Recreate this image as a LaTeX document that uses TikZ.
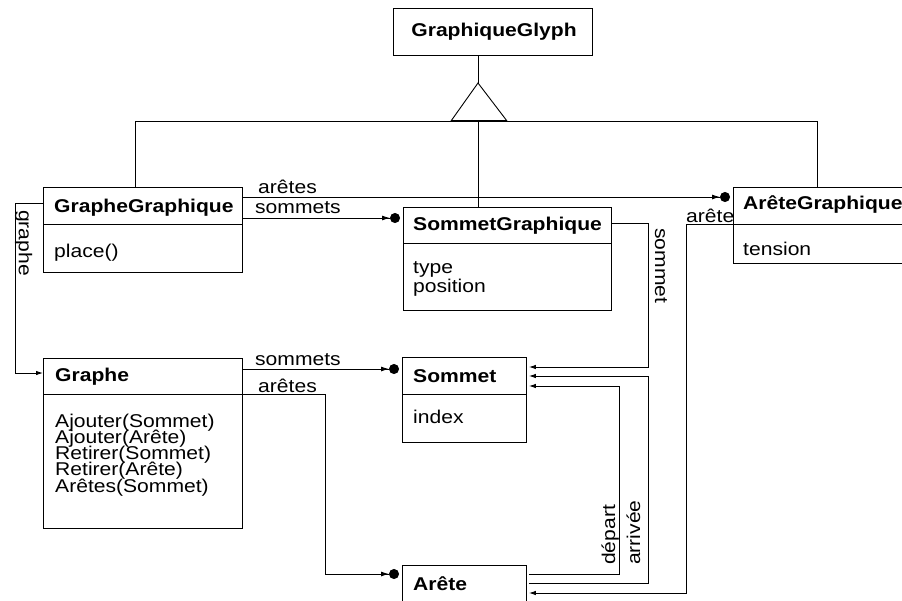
\documentclass[tikz,border=0pt]{standalone}
\usepackage{fontspec}
\setmainfont{Liberation Sans}[FakeStretch=1.14]
\usetikzlibrary{arrows.meta}
\begin{document}
\begin{tikzpicture}[x=1pt,y=-1pt,
  box/.style={draw, line width=0.9pt, inner sep=0pt, anchor=north west, fill=white},
  lbl/.style={font=\fontsize{18.5}{16}\selectfont, inner sep=0pt},
  meth/.style={lbl, text height=11pt, text depth=3pt},
  ttl/.style={font=\fontsize{18.5}{16}\selectfont\bfseries, inner sep=0pt},
  wire/.style={line width=0.9pt},
  many/.style={wire, -{Latex[length=8pt,width=5pt] Circle[length=10pt]}, shorten >=3pt},
  one/.style={wire, -{Latex[length=7pt,width=4.5pt]}, shorten >=2pt},
  tip/.style={wire, -{Latex[length=7pt,width=4.5pt]}}]
\useasboundingbox (0,0) rectangle (902,600);

% boxes
\node[box, minimum width=199pt, minimum height=47pt] (glyph) at (393,8) {};
\node[box, minimum width=199pt, minimum height=85pt] (gg) at (43,187) {};
\node[box, minimum width=208pt, minimum height=103pt] (sg) at (403,207) {};
\node[box, minimum width=171pt, minimum height=76pt] (ag) at (733,187) {};
\node[box, minimum width=199pt, minimum height=170pt] (gr) at (43,358) {};
\node[box, minimum width=124pt, minimum height=85pt] (so) at (402,357) {};
\node[box, minimum width=124pt, minimum height=50pt] (ar) at (402,565) {};

% dividers
\draw[wire] (gg.west |- 0,224) -- (gg.east |- 0,224);
\draw[wire] (sg.west |- 0,243) -- (sg.east |- 0,243);
\draw[wire] (ag.west |- 0,224) -- (ag.east |- 0,224);
\draw[wire] (gr.west |- 0,394) -- (gr.east |- 0,394);
\draw[wire] (so.west |- 0,394) -- (so.east |- 0,394);

% texts
\node[ttl, anchor=base] (tglyph) at (494,36) {GraphiqueGlyph};
\node[ttl, anchor=base west] (tgg) at (54,212) {GrapheGraphique};
\node[lbl, anchor=base west] (mgg) at (54,257) {place()};
\node[ttl, anchor=base west] (tsg) at (413,230) {SommetGraphique};
\node[meth, anchor=base west] (asg1) at (413,273) {type};
\node[meth, anchor=base west] (asg2) at (413,292) {position};
\node[ttl, anchor=base west] (tag) at (743,209) {ArêteGraphique};
\node[lbl, anchor=base west] (aag) at (743,255) {tension};
\node[ttl, anchor=base west] (tgr) at (55,381) {Graphe};
\node[meth, anchor=base west] (mgr1) at (55,427) {Ajouter(Sommet)};
\node[meth, anchor=base west] (mgr2) at (55,443) {Ajouter(Arête)};
\node[meth, anchor=base west] (mgr3) at (55,459) {Retirer(Sommet)};
\node[meth, anchor=base west] (mgr4) at (55,475) {Retirer(Arête)};
\node[meth, anchor=base west] (mgr5) at (55,492) {Arêtes(Sommet)};
\node[ttl, anchor=base west] (tso) at (413,382) {Sommet};
\node[lbl, anchor=base west] (aso) at (413,423) {index};
\node[ttl, anchor=base west] (tar) at (413,590) {Arête};

% inheritance
\coordinate (apex) at (478,83);
\coordinate (bl) at (451,121);
\coordinate (br) at (507,121);
\coordinate (bar) at (478,121);
\coordinate (barL) at (135,121);
\coordinate (barR) at (817,121);
\draw[wire] (apex |- glyph.south) -- (apex);
\draw[wire] (barL) -- (barR);
\draw[wire] (barL) -- (barL |- gg.north);
\draw[wire] (barR) -- (barR |- ag.north);
\draw[wire] (bar) -- (bar |- sg.north);
\draw[wire, fill=white, line join=miter] (apex) -- (bl) -- (br) -- cycle;
\draw[line width=1.6pt] (bl) -- (br);

% associations
\draw[many] (gg.east |- 0,197) -- (ag.west |- 0,197);
\draw[many] (gg.east |- 0,218) -- (sg.west |- 0,218);
\draw[many] (gr.east |- 0,369) -- (so.west |- 0,369);
\draw[many] (gr.east |- 0,394) -- (325,394) |- (ar.west |- 0,574);
\draw[tip] (gg.west |- 0,203) -- (15,203) |- (gr.west |- 0,373);
\draw[one] (sg.east |- 0,223) -- (648,223) |- (so.east |- 0,367);
\draw[one] ([xshift=2pt]ar.east |- 0,583) -- (648,583) |- (so.east |- 0,376);
\draw[one] ([xshift=2pt]ar.east |- 0,574) -- (619,574) |- (so.east |- 0,386);
\draw[one] (ag.west |- 0,224) -- (686,224) |- (ar.east |- 0,593);

% labels
\node[lbl, anchor=base west] (l1) at (258,193) {arêtes};
\node[lbl, anchor=base west] (l2) at (255,213) {sommets};
\node[lbl, anchor=base west] (l3) at (686,222) {arête};
\node[lbl, anchor=base west, rotate=-90] (l4) at (655,228) {sommet};
\node[lbl, anchor=base west, rotate=-90] (l5) at (19,210) {graphe};
\node[lbl, anchor=base west, rotate=90] (l6) at (615,565) {départ};
\node[lbl, anchor=base west, rotate=90] (l7) at (640,565) {arrivée};
\node[lbl, anchor=base west] (l8) at (255,365) {sommets};
\node[lbl, anchor=base west] (l9) at (258,392) {arêtes};
\end{tikzpicture}
\end{document}
